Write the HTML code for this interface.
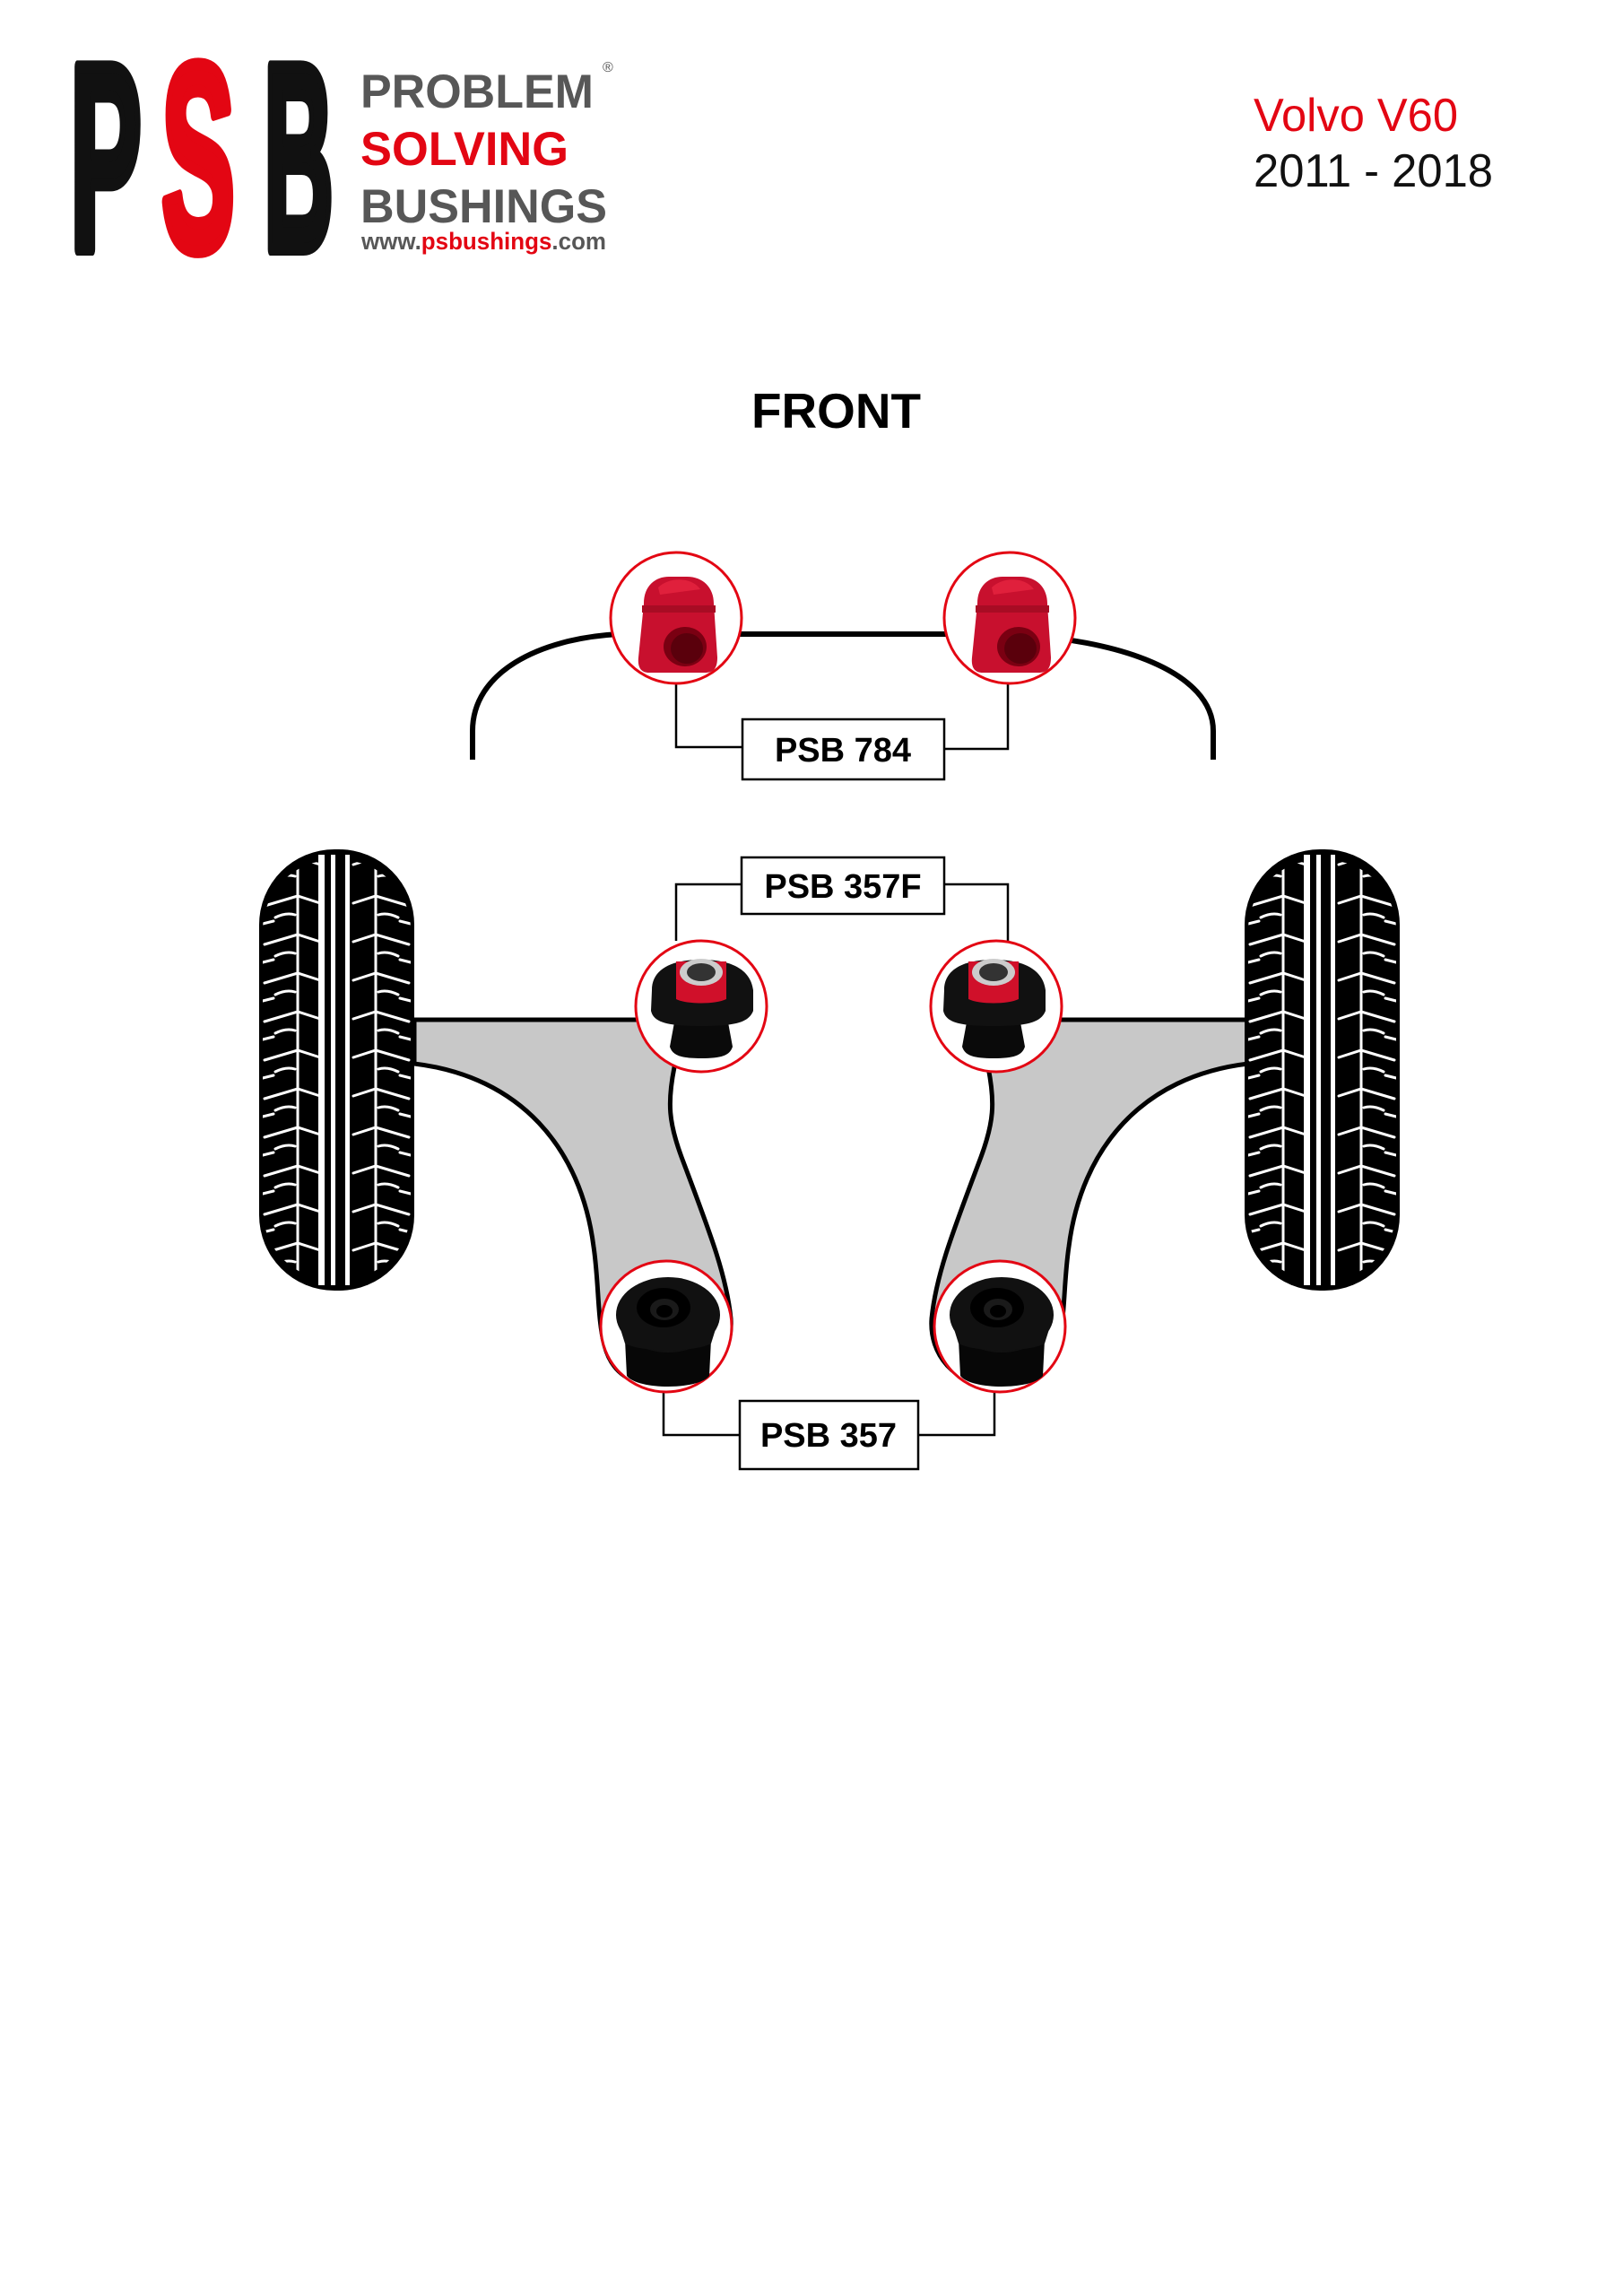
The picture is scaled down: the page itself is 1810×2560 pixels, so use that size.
<!DOCTYPE html>
<html><head><meta charset="utf-8"><style>
html,body{margin:0;padding:0;background:#fff}
svg{display:block}
</style></head><body>
<svg width="1810" height="2560" viewBox="0 0 1810 2560" xmlns="http://www.w3.org/2000/svg">
<defs>
<pattern id="tread" x="0" y="0" width="173" height="43" patternUnits="userSpaceOnUse">
  <g stroke="#fff" stroke-width="3" fill="none" stroke-linecap="round">
    <line x1="43" y1="0" x2="43" y2="43"/>
    <polyline points="6,20 43,9 68,17"/>
    <path d="M18,33 Q30,27 40,30"/>
    <line x1="4" y1="40" x2="16" y2="37"/>
    <line x1="130" y1="0" x2="130" y2="43"/>
    <polyline points="167,20 130,9 105,17"/>
    <path d="M155,33 Q143,27 133,30"/>
    <line x1="169" y1="40" x2="157" y2="37"/>
  </g>
</pattern>
<clipPath id="tclip"><rect x="4" y="12" width="165" height="468" rx="78"/></clipPath>
<g id="tire">
  <rect x="0" y="0" width="173" height="492" rx="84" ry="84" fill="#000"/>
  <rect x="0" y="0" width="173" height="492" fill="url(#tread)" clip-path="url(#tclip)"/>
  <rect x="66" y="6" width="7" height="480" fill="#fff"/>
  <rect x="80" y="6" width="5" height="480" fill="#fff"/>
  <rect x="96" y="6" width="5" height="480" fill="#fff"/>
</g>
<g id="redb">
  <path d="M-38,-20 C-38,-40 -25,-50 -10,-50 L10,-50 C28,-50 40,-38 40,-20 L44,40 C44,52 40,57 30,57 L-32,57 C-42,57 -45,50 -44,40 Z" fill="#c8102e"/>
  <path d="M-22,-38 C-10,-50 15,-50 25,-36 L-20,-30 Z" fill="#e0203c"/>
  <rect x="-40" y="-18" width="82" height="8" fill="#a80c24"/>
  <ellipse cx="8" cy="28" rx="24" ry="22" fill="#7a0012"/>
  <ellipse cx="10" cy="30" rx="18" ry="17" fill="#5a000c"/>
</g>
<g id="upb">
  <path d="M-30,18 L30,18 L35,45 C32,55 22,58 0,58 C-22,58 -32,55 -35,45 Z" fill="#0a0a0a"/>
  <path d="M-55,-18 C-55,-42 -32,-52 0,-52 C32,-52 55,-42 58,-18 L58,5 C53,18 38,22 0,22 C-38,22 -53,18 -56,5 Z" fill="#111"/>
  <path d="M-28,-50 L28,-50 L28,-8 C16,-2 -16,-2 -28,-8 Z" fill="#d0102a"/>
  <ellipse cx="0" cy="-38" rx="24" ry="15" fill="#ccc"/>
  <ellipse cx="0" cy="-38" rx="16" ry="10" fill="#333"/>
</g>
<g id="lowb">
  <path d="M-48,10 L-46,50 C-40,58 -20,62 0,62 C20,62 40,58 46,50 L48,10 Z" fill="#070707"/>
  <ellipse cx="0" cy="-18" rx="58" ry="42" fill="#111"/>
  <path d="M-58,-18 L-48,14 C-30,24 30,24 48,14 L58,-18 Z" fill="#111"/>
  <ellipse cx="-5" cy="-26" rx="30" ry="22" fill="#000"/>
  <ellipse cx="-4" cy="-24" rx="16" ry="12" fill="#1a1a1a"/>
  <ellipse cx="-4" cy="-22" rx="9" ry="7" fill="#000"/>
</g>
<path id="arm" d="M462,1137 L760,1137 L752,1190 C744,1230 746,1252 760,1290 C790,1370 810,1420 815,1470 C818,1510 790,1545 742,1545 C702,1545 682,1530 674,1500 C666,1470 668,1430 662,1390 C648,1280 580,1200 462,1186 Z" fill="#c8c8c8" stroke="#000" stroke-width="5"/>
</defs>

<!-- Logo -->
<g font-family="Liberation Sans, sans-serif" font-weight="bold" font-size="296" stroke-width="14" stroke-linejoin="round">
<text x="78" y="278" fill="#111" stroke="#111" textLength="80" lengthAdjust="spacingAndGlyphs">P</text>
<text x="180" y="278" fill="#e30613" stroke="#e30613" textLength="82" lengthAdjust="spacingAndGlyphs">S</text>
<text x="294" y="278" fill="#111" stroke="#111" textLength="78" lengthAdjust="spacingAndGlyphs">B</text>
</g>
<text x="402" y="120" font-family="Liberation Sans, sans-serif" font-weight="bold" font-size="53" fill="#575757" textLength="260" lengthAdjust="spacingAndGlyphs">PROBLEM</text>
<text x="672" y="80" font-family="Liberation Sans, sans-serif" font-size="16" fill="#575757">®</text>
<text x="402" y="184" font-family="Liberation Sans, sans-serif" font-weight="bold" font-size="53" fill="#e30613" textLength="232" lengthAdjust="spacingAndGlyphs">SOLVING</text>
<text x="402" y="248" font-family="Liberation Sans, sans-serif" font-weight="bold" font-size="53" fill="#575757" textLength="275" lengthAdjust="spacingAndGlyphs">BUSHINGS</text>
<text x="403" y="278" font-family="Liberation Sans, sans-serif" font-weight="bold" font-size="27" fill="#575757" textLength="273" lengthAdjust="spacingAndGlyphs">www.<tspan fill="#e30613">psbushings</tspan>.com</text>

<text x="1398" y="146" font-family="Liberation Sans, sans-serif" font-size="52" fill="#e30613" textLength="228" lengthAdjust="spacingAndGlyphs">Volvo V60</text>
<text x="1398" y="208" font-family="Liberation Sans, sans-serif" font-size="52" fill="#111" textLength="267" lengthAdjust="spacingAndGlyphs">2011 - 2018</text>

<text x="838" y="477" font-family="Liberation Sans, sans-serif" font-weight="bold" font-size="55" fill="#000" textLength="189" lengthAdjust="spacingAndGlyphs">FRONT</text>

<!-- Sway bar -->
<path d="M527,847 L527,815 C527,750 600,712 690,707 L1120,707 C1250,712 1353,750 1353,815 L1353,847" fill="none" stroke="#000" stroke-width="6"/>

<!-- leaders -->
<g fill="none" stroke="#000" stroke-width="2.5">
<polyline points="754,760 754,833 828,833"/>
<polyline points="1124,760 1124,835 1053,835"/>
<polyline points="828,986 754,986 754,1049"/>
<polyline points="1053,986 1124,986 1124,1049"/>
<polyline points="740,1553 740,1600 825,1600"/>
<polyline points="1109,1553 1109,1600 1024,1600"/>
</g>

<!-- arms -->
<use href="#arm"/>
<use href="#arm" transform="translate(1854,0) scale(-1,1)"/>

<!-- tires -->
<use href="#tire" x="289" y="947"/>
<use href="#tire" x="1388" y="947"/>

<!-- circles -->
<g fill="#fff" stroke="#e30613" stroke-width="3">
<circle cx="754" cy="689" r="73"/>
<circle cx="1126" cy="689" r="73"/>
<circle cx="782" cy="1122" r="73"/>
<circle cx="1111" cy="1122" r="73"/>
<circle cx="743" cy="1479" r="73"/>
<circle cx="1115" cy="1479" r="73"/>
</g>
<use href="#redb" x="756" y="693"/>
<use href="#redb" x="1128" y="693"/>
<use href="#upb" x="782" y="1122"/>
<use href="#upb" x="1108" y="1122"/>
<use href="#lowb" x="745" y="1484"/>
<use href="#lowb" x="1117" y="1484"/>

<!-- boxes -->
<g fill="#fff" stroke="#000" stroke-width="2.5">
<rect x="828" y="802" width="225" height="67"/>
<rect x="827" y="956" width="226" height="63"/>
<rect x="825" y="1562" width="199" height="76"/>
</g>
<g font-family="Liberation Sans, sans-serif" font-weight="bold" font-size="38" fill="#000" text-anchor="middle">
<text x="940" y="849">PSB 784</text>
<text x="940" y="1001">PSB 357F</text>
<text x="924" y="1613">PSB 357</text>
</g>
</svg>
</body></html>
